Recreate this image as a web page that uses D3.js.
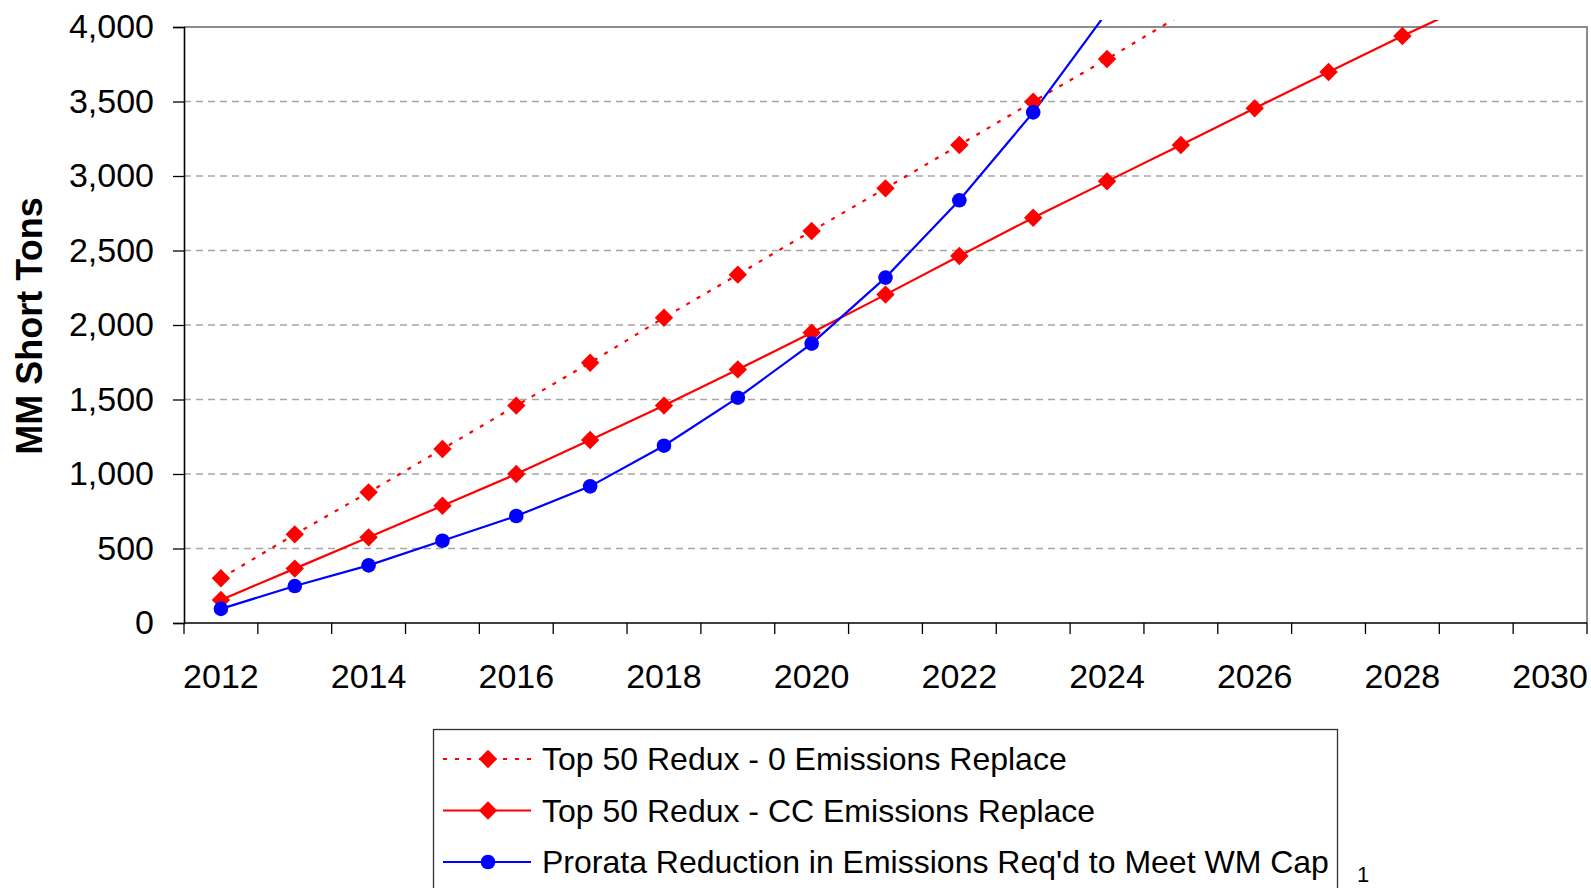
<!DOCTYPE html>
<html>
<head>
<meta charset="utf-8">
<script src="https://cdn.jsdelivr.net/npm/d3@7"></script>
<style>
  html, body { margin: 0; padding: 0; background: #fff; }
  svg { display: block; font-family: "Liberation Sans", Arial, sans-serif; }
</style>
</head>
<body>
<svg id="chart" width="1591" height="888"></svg>
<script>
// Years on the category axis
const years = ["2012","2013","2014","2015","2016","2017","2018","2019","2020",
               "2021","2022","2023","2024","2025","2026","2027","2028","2029","2030"];
// Years that carry a label
const yearLabels = ["2012","2014","2016","2018","2020","2022","2024","2026","2028","2030"];
// Value axis ticks (MM short tons)
const valueTicks = [0, 500, 1000, 1500, 2000, 2500, 3000, 3500, 4000];

// Series values (MM short tons), one per year starting in 2012
const zeroEmissionsReplace = [300, 595, 877, 1168, 1459, 1747, 2049, 2338, 2631, 2917, 3208, 3499, 3785, 4080];
const ccEmissionsReplace   = [155, 365, 575, 787, 1000, 1228, 1459, 1702, 1948, 2204, 2463, 2720, 2964, 3208, 3454, 3698, 3940, 4170];
const prorataReduction     = [95, 248, 387, 552, 718, 917, 1190, 1512, 1875, 2318, 2837, 3427, 4100];

const seriesNames = [
  "Top 50 Redux - 0 Emissions Replace",
  "Top 50 Redux - CC Emissions Replace",
  "Prorata Reduction in Emissions Req'd to Meet WM Cap"
];

const svg = d3.select("#chart");
const plot = { left: 184, right: 1587, top: 27, bottom: 623 };

const x = d3.scaleBand().domain(years).range([plot.left, plot.right]).padding(0);
const cx = d => x(d) + x.bandwidth() / 2;
const y = d3.scaleLinear().domain([0, 4000]).range([plot.bottom, plot.top]);

const series = [
  { name: seriesNames[0], values: zeroEmissionsReplace, color: "#ff0000", dash: "4,8", marker: "diamond" },
  { name: seriesNames[1], values: ccEmissionsReplace,   color: "#ff0000", dash: null,  marker: "diamond" },
  { name: seriesNames[2], values: prorataReduction,     color: "#0000ff", dash: null,  marker: "circle" }
];

// Clip for the lines (they run a little past the top of the plot)
svg.append("defs").append("clipPath").attr("id", "plotClip")
  .append("rect")
  .attr("x", plot.left).attr("y", 20)
  .attr("width", plot.right - plot.left).attr("height", plot.bottom - 20);

// Horizontal dashed gridlines
svg.append("g")
  .selectAll("line")
  .data(valueTicks.filter(v => v > 0 && v < 4000))
  .join("line")
  .attr("x1", plot.left).attr("x2", plot.right)
  .attr("y1", d => y(d)).attr("y2", d => y(d))
  .attr("stroke", "#a6a6a6").attr("stroke-width", 1.3)
  .attr("stroke-dasharray", "7,5");

// Top and right frame of the plot area
svg.append("path")
  .attr("d", `M${plot.left},${y(4000)}H${plot.right}V${plot.bottom}`)
  .attr("fill", "none").attr("stroke", "#8c8c8c").attr("stroke-width", 2);

// Value axis
const yAxis = d3.axisLeft(y)
  .tickValues(valueTicks)
  .tickSize(11)
  .tickPadding(19)
  .tickFormat(d3.format(","));
const gy = svg.append("g").attr("transform", `translate(${plot.left},0)`).call(yAxis);
gy.select(".domain").attr("stroke", "#000").attr("stroke-width", 1.6);
gy.selectAll(".tick line").attr("stroke", "#000").attr("stroke-width", 1.3);
gy.selectAll(".tick text").attr("font-size", 34).attr("fill", "#000")
  .attr("font-family", "Liberation Sans, Arial, sans-serif");

// Category axis line and tick marks at category boundaries
svg.append("line")
  .attr("x1", plot.left).attr("x2", plot.right)
  .attr("y1", plot.bottom).attr("y2", plot.bottom)
  .attr("stroke", "#000").attr("stroke-width", 1.6);
const boundaries = years.map(d => x(d)).concat([x(years[years.length - 1]) + x.bandwidth()]);
svg.append("g").selectAll("line")
  .data(boundaries)
  .join("line")
  .attr("x1", d => d).attr("x2", d => d)
  .attr("y1", plot.bottom).attr("y2", plot.bottom + 11)
  .attr("stroke", "#000").attr("stroke-width", 1.3);
svg.append("g").selectAll("text")
  .data(yearLabels)
  .join("text")
  .attr("x", d => cx(d)).attr("y", 688)
  .attr("text-anchor", "middle")
  .attr("font-size", 34).attr("fill", "#000")
  .text(d => d);

// Value axis title
svg.append("text")
  .attr("transform", "translate(42,326) rotate(-90)")
  .attr("text-anchor", "middle")
  .attr("font-size", 36).attr("font-weight", "bold").attr("fill", "#000")
  .text("MM Short Tons");

// Series lines
const line = d3.line().x(d => cx(d.year)).y(d => y(d.value));
const lineLayer = svg.append("g").attr("clip-path", "url(#plotClip)");
series.forEach(s => {
  const pts = s.values.map((v, i) => ({ year: years[i], value: v }));
  lineLayer.append("path")
    .datum(pts)
    .attr("d", line)
    .attr("fill", "none")
    .attr("stroke", s.color)
    .attr("stroke-width", 2.2)
    .attr("stroke-dasharray", s.dash);
});

// Markers (only within the axis range)
const diamond = r => `M0,${-r}L${r},0L0,${r}L${-r},0Z`;
function drawMarker(g, kind, color) {
  if (kind === "diamond") {
    g.append("path").attr("d", diamond(9.2)).attr("fill", color);
  } else {
    g.append("circle").attr("r", 7.3).attr("fill", color);
  }
}
const markerLayer = svg.append("g");
series.forEach(s => {
  s.values.forEach((v, i) => {
    if (v > 4000) return;
    const g = markerLayer.append("g")
      .attr("transform", `translate(${cx(years[i])},${y(v)})`);
    drawMarker(g, s.marker, s.color);
  });
});

// Legend
const legend = svg.append("g");
legend.append("rect")
  .attr("x", 433.5).attr("y", 729.5)
  .attr("width", 904).attr("height", 200)
  .attr("fill", "#fff").attr("stroke", "#333").attr("stroke-width", 1.3);
const rowY = [759, 810.5, 862];
series.forEach((s, i) => {
  const ry = rowY[i];
  legend.append("line")
    .attr("x1", 443).attr("x2", 531)
    .attr("y1", ry).attr("y2", ry)
    .attr("stroke", s.color).attr("stroke-width", 2.2)
    .attr("stroke-dasharray", s.dash);
  const g = legend.append("g").attr("transform", `translate(488,${ry})`);
  drawMarker(g, s.marker, s.color);
  legend.append("text")
    .attr("x", 542).attr("y", ry)
    .attr("dy", "0.35em")
    .attr("font-size", 32).attr("fill", "#000")
    .text(s.name);
});
// Footnote marker beside the legend
svg.append("text")
  .attr("x", 1357).attr("y", 882)
  .attr("font-size", 22).attr("fill", "#000")
  .text("1");
</script>
</body>
</html>
